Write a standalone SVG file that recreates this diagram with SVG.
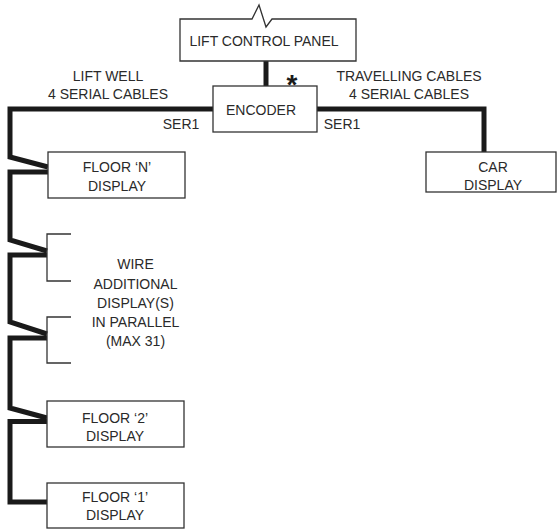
<svg xmlns="http://www.w3.org/2000/svg" width="557" height="530" viewBox="0 0 557 530">
<style>
.box{fill:#fff;stroke:#333;stroke-width:1.3}
.t{font-family:"Liberation Sans",Arial,sans-serif;font-size:14px;fill:#2a2a2a;text-anchor:middle}
.thick{fill:none;stroke:#1a1a1a;stroke-width:5;stroke-linejoin:miter;stroke-linecap:butt}
.thin{fill:none;stroke:#333;stroke-width:1.3}
</style>
<rect width="557" height="530" fill="#fff"/>
<g id="connectors">
<path class="thick" d="M266,61 V86"/>
<path class="thick" d="M213,109 H10 V157 L48,167"/>
<path class="thick" d="M48,172 H10 V240 L47,251"/>
<path class="thick" d="M47,255 H10 V322 L47,334"/>
<path class="thick" d="M47,338 H10 V408 L47,418"/>
<path class="thick" d="M47,421.5 H10 V502 H47"/>
<path class="thick" d="M317,109 H484 V152"/>
<path class="thin" d="M71,234 H47 V281 H71"/>
<path class="thin" d="M71,317 H47 V363 H71"/>
</g>
<g id="lift-control-panel">
<path class="box" d="M180,19 H252 L259,5 L266,27 L272,19 H356 V61 H180 Z"/>
<text class="t" x="264" y="46">LIFT CONTROL PANEL</text>
</g>
<g id="encoder">
<rect class="box" x="213" y="86" width="104" height="46"/>
<text class="t" x="261" y="115">ENCODER</text>
<text x="292" y="94" font-family="Liberation Sans,Arial,sans-serif" font-weight="bold" font-size="28" fill="#1a1a1a" text-anchor="middle">*</text>
</g>
<g id="labels">
<text class="t" x="108" y="81">LIFT WELL</text>
<text class="t" x="108" y="99">4 SERIAL CABLES</text>
<text class="t" x="181" y="129">SER1</text>
<text class="t" x="409" y="81">TRAVELLING CABLES</text>
<text class="t" x="409" y="99">4 SERIAL CABLES</text>
<text class="t" x="342" y="129">SER1</text>
</g>
<g id="car-display">
<rect class="box" x="426" y="152" width="130" height="40"/>
<text class="t" x="493" y="172">CAR</text>
<text class="t" x="493" y="190">DISPLAY</text>
</g>
<g id="floor-n">
<rect class="box" x="48" y="152" width="137" height="46"/>
<text class="t" x="117" y="172">FLOOR ‘N’</text>
<text class="t" x="117" y="191">DISPLAY</text>
</g>
<g id="additional">
<text class="t" x="135.5" y="269">WIRE</text>
<text class="t" x="135.5" y="289">ADDITIONAL</text>
<text class="t" x="135.5" y="308">DISPLAY(S)</text>
<text class="t" x="135.5" y="327">IN PARALLEL</text>
<text class="t" x="135.5" y="346">(MAX 31)</text>
</g>
<g id="floor-2">
<rect class="box" x="47" y="401" width="137" height="46"/>
<text class="t" x="115" y="423">FLOOR ‘2’</text>
<text class="t" x="115" y="441">DISPLAY</text>
</g>
<g id="floor-1">
<rect class="box" x="47" y="483" width="137" height="45"/>
<text class="t" x="115" y="502">FLOOR ‘1’</text>
<text class="t" x="115" y="520">DISPLAY</text>
</g>
</svg>
